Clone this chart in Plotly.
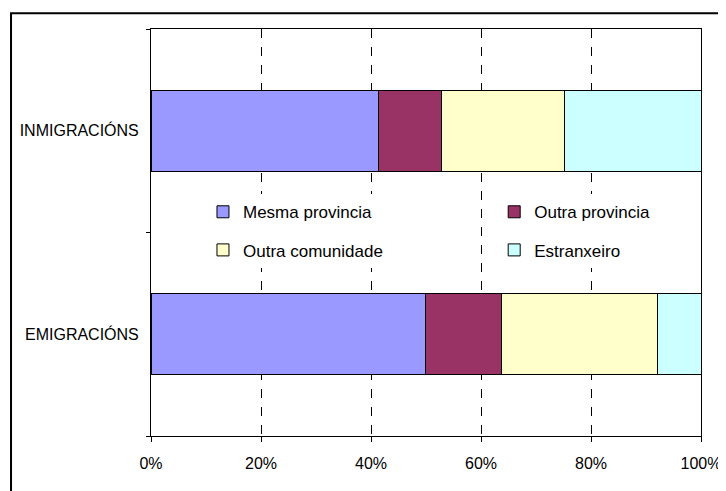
import plotly.graph_objects as go

categories = ["EMIGRACIÓNS", "INMIGRACIÓNS"]
series_names = ["Mesma provincia", "Outra provincia", "Outra comunidade", "Estranxeiro"]
mesma_provincia = [0.499, 0.414]
outra_provincia = [0.138, 0.114]
outra_comunidade = [0.284, 0.224]
estranxeiro = [0.079, 0.248]
x_ticks = [0, 0.2, 0.4, 0.6, 0.8, 1.0]
x_tick_labels = ["0%", "20%", "40%", "60%", "80%", "100%"]

series_values = [mesma_provincia, outra_provincia, outra_comunidade, estranxeiro]
colors = ["#9999FF", "#993366", "#FFFFCC", "#CCFFFF"]
legends = ["legend", "legend2", "legend", "legend2"]

FONT = "Arial, Liberation Sans, sans-serif"

fig = go.Figure()
for i, (name, vals) in enumerate(zip(series_names, series_values)):
    fig.add_trace(go.Bar(
        y=categories, x=vals, name=name, orientation="h",
        marker=dict(color=colors[i], line=dict(color="black", width=1)),
        legend=legends[i], legendgroup=f"g{i}",
        hoverinfo="x+name",
    ))

fig.update_layout(
    width=726, height=491,
    barmode="stack", bargap=0.6,
    margin=dict(l=143, r=33, t=21, b=63),
    paper_bgcolor="white", plot_bgcolor="white",
    font=dict(family=FONT, size=16, color="black"),
    showlegend=True,
    legend=dict(x=0.0945, y=0.594, xanchor="left", yanchor="top",
                bgcolor="white", borderwidth=0, traceorder="grouped",
                tracegroupgap=13, entrywidth=250, font=dict(size=17)),
    legend2=dict(x=0.624, y=0.594, xanchor="left", yanchor="top",
                 bgcolor="white", borderwidth=0, traceorder="grouped",
                 tracegroupgap=13, entrywidth=190, font=dict(size=17)),
    xaxis=dict(range=[0, 1], tickvals=x_ticks, ticktext=x_tick_labels,
               showgrid=True, gridcolor="black", griddash="dash", gridwidth=1,
               showline=True, linecolor="black", linewidth=1, mirror=True,
               ticks="outside", ticklen=5, tickcolor="black",
               ticklabelstandoff=8,
               tickfont=dict(size=16), zeroline=False, fixedrange=True),
    yaxis=dict(categoryorder="array", categoryarray=categories,
               showline=True, linecolor="black", linewidth=1, mirror=True,
               ticks="outside", ticklen=4, tickcolor="black", tickson="boundaries",
               ticklabelstandoff=8,
               tickfont=dict(size=16), showgrid=False, fixedrange=True),
    shapes=[dict(type="rect", xref="paper", yref="paper",
                 x0=-0.2545, x1=1.2, y0=-0.3, y1=1.039,
                 line=dict(color="black", width=2), fillcolor="rgba(0,0,0,0)",
                 layer="below")],
)

fig.write_html("out.html")
